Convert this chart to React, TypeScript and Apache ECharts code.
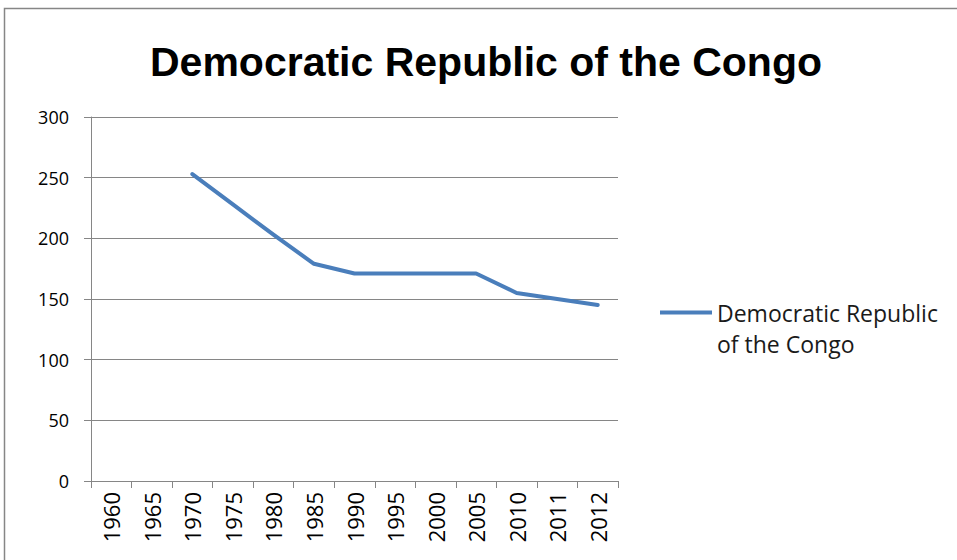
import React, { useEffect, useRef } from "react";
import * as echarts from "echarts";

// Years along the category axis and the series values (no data before 1970)
const years = ["1960", "1965", "1970", "1975", "1980", "1985", "1990", "1995", "2000", "2005", "2010", "2011", "2012"];
const values: (number | null)[] = [null, null, 253, 228, 203, 179, 171, 171, 171, 171, 155, 150, 145];
const yTicks = [0, 50, 100, 150, 200, 250, 300];
const seriesName = "Democratic Republic of the Congo";
const titleText = "Democratic Republic of the Congo";

const TITLE_FONT = "'Liberation Sans', Arial, sans-serif";
const BODY_FONT = "'Open Sans', 'Noto Sans', sans-serif";
const GRID_COLOR = "#868686";
const LINE_COLOR = "#4A7EBB";

export default function App() {
  const ref = useRef<HTMLDivElement>(null);

  useEffect(() => {
    if (!ref.current) return;
    const chart = echarts.init(ref.current, null, { renderer: "svg" });
    chart.setOption({
      animation: false,
      backgroundColor: "#ffffff",
      title: {
        text: titleText,
        left: 150,
        top: 41,
        padding: 0,
        textStyle: { fontFamily: TITLE_FONT, fontWeight: "bold", fontSize: 41, color: "#000" },
      },
      graphic: [
        {
          type: "rect",
          silent: true,
          shape: { x: 4.5, y: 8.5, width: 1200, height: 800 },
          style: { fill: "none", stroke: GRID_COLOR, lineWidth: 1.5 },
        },
      ],
      legend: {
        orient: "vertical",
        left: 660,
        top: 266,
        padding: 0,
        itemWidth: 52,
        itemHeight: 4,
        itemGap: 0,
        icon: "rect",
        // leading blank line keeps the marker level with the first line of the name
        formatter: () => " \nDemocratic Republic\nof the Congo",
        textStyle: {
          fontFamily: BODY_FONT,
          fontSize: 23,
          lineHeight: 31,
          color: "#1a1a1a",
        },
        data: [seriesName],
      },
      grid: { left: 91, right: 339, top: 117, bottom: 79, containLabel: false },
      xAxis: {
        type: "category",
        data: years,
        boundaryGap: true,
        axisLine: { lineStyle: { color: GRID_COLOR, width: 1 } },
        axisTick: { show: true, length: 7, alignWithLabel: false, lineStyle: { color: GRID_COLOR } },
        axisLabel: {
          rotate: 90,
          margin: 11,
          interval: 0,
          fontFamily: BODY_FONT,
          fontSize: 22,
          color: "#000",
        },
      },
      yAxis: {
        type: "value",
        min: yTicks[0],
        max: yTicks[yTicks.length - 1],
        interval: 50,
        axisLine: { show: true, lineStyle: { color: GRID_COLOR, width: 1 } },
        axisTick: { show: true, length: 7, lineStyle: { color: GRID_COLOR } },
        splitLine: { show: true, lineStyle: { color: GRID_COLOR, width: 1 } },
        axisLabel: { margin: 22, fontFamily: BODY_FONT, fontSize: 18, color: "#000" },
      },
      series: [
        {
          name: seriesName,
          type: "line",
          data: values,
          showSymbol: false,
          symbol: "none",
          connectNulls: false,
          color: LINE_COLOR,
          lineStyle: { color: LINE_COLOR, width: 4, cap: "round", join: "round" },
        },
      ],
    });
    return () => chart.dispose();
  }, []);

  return (
    <div
      ref={ref}
      style={{ position: "fixed", left: 0, top: 0, width: 957, height: 560, background: "#fff" }}
    />
  );
}
